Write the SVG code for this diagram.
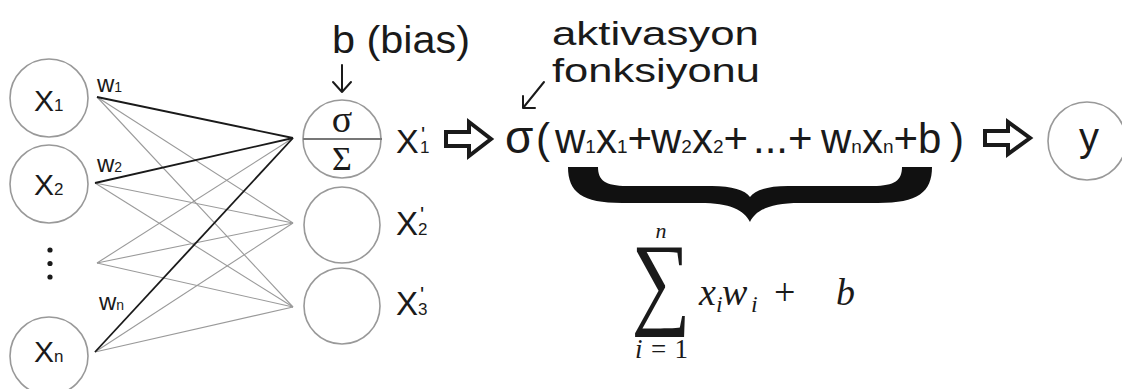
<svg xmlns="http://www.w3.org/2000/svg" width="1122" height="389" viewBox="0 0 1122 389">
<style>
.node{fill:#fff;stroke:#999;stroke-width:1.6}
.t{font-family:"Liberation Sans",Arial,sans-serif;fill:#1a1a1a}
.m{font-family:"Liberation Serif","DejaVu Serif",serif;fill:#1a1a1a}
.mi{font-family:"Liberation Serif","DejaVu Serif",serif;font-style:italic;fill:#1a1a1a}
.w{stroke:#1a1a1a;stroke-width:1.8;fill:none}
.g{stroke:#9a9a9a;stroke-width:1.1;fill:none}
.arr{stroke:#1a1a1a;stroke-width:2;fill:none;stroke-linecap:round;stroke-linejoin:round}
.hol{stroke:#1a1a1a;stroke-width:4;fill:#fff;stroke-linejoin:miter}
</style>
<rect width="1122" height="389" fill="#fff"/>

<g id="connectors">
  <line class="g" x1="97" y1="97" x2="293" y2="223"/>
  <line class="g" x1="97" y1="97" x2="293" y2="307"/>
  <line class="g" x1="95" y1="183" x2="293" y2="223"/>
  <line class="g" x1="95" y1="183" x2="293" y2="307"/>
  <line class="g" x1="97" y1="263" x2="293" y2="138"/>
  <line class="g" x1="97" y1="263" x2="293" y2="223"/>
  <line class="g" x1="97" y1="263" x2="293" y2="307"/>
  <line class="g" x1="95" y1="352" x2="293" y2="223"/>
  <line class="g" x1="95" y1="352" x2="293" y2="307"/>
  <line class="w" x1="97" y1="97" x2="293" y2="138"/>
  <line class="w" x1="95" y1="183" x2="293" y2="138"/>
  <line class="w" x1="95" y1="352" x2="293" y2="138"/>
  <path class="arr" d="M342 65 V92 M333 82 L342 92 L351 82"/>
  <path class="arr" d="M544 82 L523 108 M523 96 V108 H535"/>
  <path class="hol" d="M446 132 H469 V122 L491 139 L469 156 V146 H446 Z"/>
  <path class="hol" d="M985 131 H1008 V122 L1030 138 L1008 154 V145 H985 Z"/>
</g>

<g id="node-x1">
  <circle class="node" cx="49" cy="98" r="39"/>
  <text class="t" y="111"><tspan x="34" font-size="30">X</tspan><tspan font-size="17">1</tspan></text>
  <text class="t" y="92"><tspan x="97" font-size="24">w</tspan><tspan font-size="14">1</tspan></text>
</g>
<g id="node-x2">
  <circle class="node" cx="49" cy="184" r="39"/>
  <text class="t" y="195"><tspan x="34" font-size="30">X</tspan><tspan font-size="17">2</tspan></text>
  <text class="t" y="172"><tspan x="97" font-size="24">w</tspan><tspan font-size="14">2</tspan></text>
</g>
<g id="node-dots">
  <circle cx="50" cy="250" r="2.6" fill="#1a1a1a"/>
  <circle cx="50" cy="263.5" r="2.6" fill="#1a1a1a"/>
  <circle cx="50" cy="277" r="2.6" fill="#1a1a1a"/>
</g>
<g id="node-xn">
  <circle class="node" cx="49" cy="356" r="39"/>
  <text class="t" y="362"><tspan x="34" font-size="30">X</tspan><tspan font-size="17">n</tspan></text>
  <text class="t" y="310"><tspan x="99" font-size="24">w</tspan><tspan font-size="14">n</tspan></text>
</g>

<g id="node-h1">
  <circle class="node" cx="342" cy="139" r="39"/>
  <line x1="303" y1="139" x2="382" y2="139" stroke="#777" stroke-width="2"/>
  <text class="m" x="342" y="132" font-size="38" text-anchor="middle">σ</text>
  <text class="m" x="342" y="170" font-size="34" text-anchor="middle">Σ</text>
  <text class="t" x="302" y="53" font-size="38" textLength="138" lengthAdjust="spacingAndGlyphs" transform="translate(30 0)">b (bias)</text>
  <text class="t" y="153"><tspan x="396" font-size="34">X</tspan><tspan x="421" y="142" font-size="22">'</tspan><tspan x="420" y="153" font-size="17">1</tspan></text>
</g>
<g id="node-h2">
  <circle class="node" cx="342" cy="225" r="38"/>
  <text class="t" y="235"><tspan x="396" font-size="33">X</tspan><tspan x="420" y="222" font-size="22">'</tspan><tspan x="418" y="235" font-size="17">2</tspan></text>
</g>
<g id="node-h3">
  <circle class="node" cx="342" cy="306" r="38"/>
  <text class="t" y="315"><tspan x="396" font-size="33">X</tspan><tspan x="420" y="302" font-size="22">'</tspan><tspan x="418" y="315" font-size="17">3</tspan></text>
</g>

<g id="activation-label">
  <text class="t" x="552" y="45" font-size="33" textLength="207" lengthAdjust="spacingAndGlyphs">aktivasyon</text>
  <text class="t" x="552" y="82" font-size="33" textLength="208" lengthAdjust="spacingAndGlyphs">fonksiyonu</text>
</g>

<g id="formula">
  <text class="t" y="153" font-size="42"><tspan x="505" font-size="46">σ</tspan><tspan x="536">(</tspan><tspan x="555">w</tspan><tspan font-size="19">1</tspan><tspan>x</tspan><tspan font-size="19">1</tspan><tspan>+</tspan><tspan x="651">w</tspan><tspan font-size="19">2</tspan><tspan>x</tspan><tspan font-size="19">2</tspan><tspan>+</tspan><tspan x="753">...</tspan><tspan>+</tspan><tspan x="821">w</tspan><tspan font-size="19">n</tspan><tspan>x</tspan><tspan font-size="19">n</tspan><tspan>+</tspan><tspan x="918">b</tspan><tspan x="950">)</tspan></text>
</g>

<g id="brace">
  <path fill="#111" d="M568 167 L598 167 C598 180 605 186 627 186 L712 186 C732 186 745 190 750 197 C755 190 768 186 788 186 L873 186 C895 186 902 180 902 167 L932 167 C932 192 918 203 878 203 L800 203 C770 203 756 210 750 222 C744 210 730 203 700 203 L622 203 C582 203 568 192 568 167 Z"/>
</g>

<g id="sum">
  <text class="mi" x="661" y="238" font-size="22" text-anchor="middle">n</text>
  <text class="m" x="0" y="0" font-size="80" text-anchor="middle" transform="translate(661 315) scale(1.04 1.29)">∑</text>
  <text class="mi" x="635" y="358" font-size="27" textLength="53" lengthAdjust="spacing">i<tspan font-style="normal">=1</tspan></text>
  <text class="mi" y="305" font-size="38"><tspan x="699">x</tspan><tspan x="716" y="312" font-size="24">i</tspan><tspan x="722" y="305">w</tspan><tspan x="751" y="312" font-size="24">i</tspan><tspan x="774" y="305" font-style="normal">+</tspan><tspan x="836">b</tspan></text>
</g>

<g id="node-y">
  <circle class="node" cx="1087" cy="141" r="39"/>
  <text class="t" x="1089" y="151" font-size="40" text-anchor="middle">y</text>
</g>
</svg>
